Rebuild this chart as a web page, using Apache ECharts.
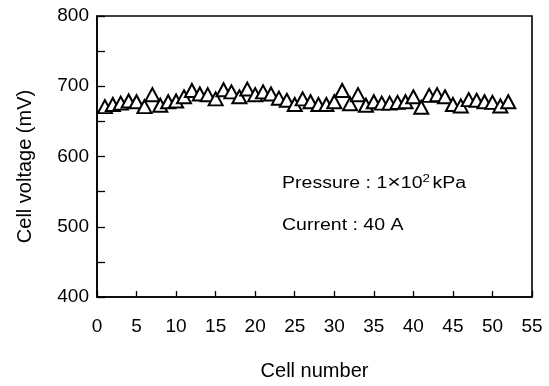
<!DOCTYPE html>
<html>
<head>
<meta charset="utf-8">
<script src="https://cdn.jsdelivr.net/npm/echarts@6/dist/echarts.min.js"></script>
<style>
  html, body { margin: 0; padding: 0; background: #fff; }
  #cellVoltage { width: 549px; height: 386px; }
</style>
</head>
<body>
<div id="cellVoltage"></div>
<script>
// cell index and measured voltage (mV)
const cellNumbers = [
  1, 2, 3, 4, 5, 6, 7, 8, 9, 10, 11, 12, 13, 14, 15, 16, 17, 18, 19, 20,
  21, 22, 23, 24, 25, 26, 27, 28, 29, 30, 31, 32, 33, 34, 35, 36, 37, 38, 39, 40,
  41, 42, 43, 44, 45, 46, 47, 48, 49, 50, 51, 52
];
const cellVoltages = [
  671, 674, 676, 679, 678, 671, 688, 673, 678, 679, 685, 694, 689, 688, 682, 695, 692, 685, 696, 688,
  692, 689, 683, 680, 674, 682, 678, 674, 674, 678, 694, 675, 688, 673, 678, 676, 676, 677, 678, 685,
  670, 687, 688, 685, 674, 672, 681, 680, 678, 677, 672, 678
];
const xTicks = [0, 5, 10, 15, 20, 25, 30, 35, 40, 45, 50, 55];
const yTicks = [400, 500, 600, 700, 800];

const font = 'Liberation Sans, Arial, sans-serif';
const chart = echarts.init(document.getElementById('cellVoltage'));

const option = {
  animation: false,
  backgroundColor: '#fff',
  grid: {
    left: 97,
    right: 17,
    top: 16,
    bottom: 88,
    show: true,
    borderColor: '#000',
    borderWidth: 1.6
  },
  xAxis: {
    type: 'value',
    min: xTicks[0],
    max: xTicks[xTicks.length - 1],
    interval: 5,
    name: 'Cell number',
    nameLocation: 'middle',
    nameGap: 64,
    nameTextStyle: { fontFamily: font, fontSize: 20, color: '#000' },
    axisLine: { lineStyle: { color: '#000', width: 1.6 } },
    axisTick: { inside: true, length: 6, lineStyle: { color: '#000', width: 1.3 } },
    axisLabel: { fontFamily: font, fontSize: 19, color: '#000', margin: 20 },
    splitLine: { show: false }
  },
  yAxis: {
    type: 'value',
    min: yTicks[0],
    max: yTicks[yTicks.length - 1],
    interval: 50,
    name: 'Cell voltage (mV)',
    nameLocation: 'middle',
    nameGap: 62,
    nameTextStyle: { fontFamily: font, fontSize: 20, color: '#000', padding: [0, 20, 0, 0] },
    axisLine: { lineStyle: { color: '#000', width: 1.6 } },
    axisTick: { inside: true, length: 8, lineStyle: { color: '#000', width: 1.3 } },
    axisLabel: {
      fontFamily: font,
      fontSize: 19,
      color: '#000',
      margin: 8,
      formatter: v => (yTicks.includes(v) ? String(v) : '')
    },
    splitLine: { show: false }
  },
  graphic: [
    {
      type: 'text',
      left: 282,
      top: 173,
      scaleX: 1.22,
      style: {
        text: '{a|Pressure : 1}{x|\u00d7}{a|10}{s|2}{a|kPa}',
        rich: {
          a: { fontFamily: font, fontSize: 16, fill: '#000', verticalAlign: 'bottom' },
          x: { fontFamily: font, fontSize: 19, fill: '#000', verticalAlign: 'bottom' },
          s: { fontFamily: font, fontSize: 11, fill: '#000', verticalAlign: 'top', padding: [0, 2, 8, 0] }
        }
      }
    },
    {
      type: 'text',
      left: 282,
      top: 218,
      scaleX: 1.22,
      style: { text: 'Current : 40 A', fontFamily: font, fontSize: 16, fill: '#000' }
    }
  ],
  series: [
    {
      type: 'scatter',
      data: cellNumbers.map((c, i) => [c, cellVoltages[i]]),
      symbol: 'triangle',
      symbolSize: [14, 13],
      itemStyle: { color: '#fff', borderColor: '#000', borderWidth: 2, opacity: 1 }
    }
  ]
};
chart.setOption(option);
</script>
</body>
</html>
